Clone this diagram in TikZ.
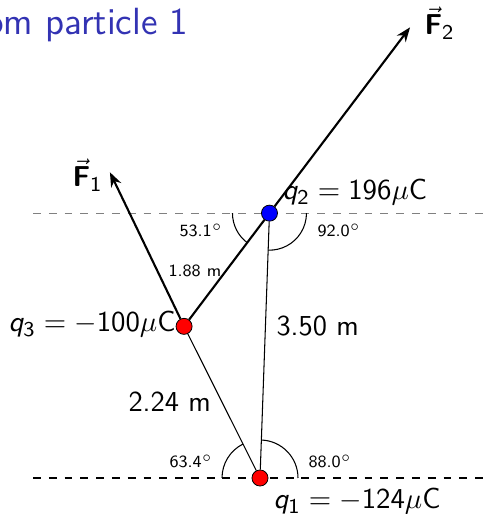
\documentclass[tikz,border=0pt]{standalone}
\usetikzlibrary{arrows.meta}
\definecolor{titleblue}{RGB}{51,51,179}
\renewcommand\familydefault{\sfdefault}
\SetSymbolFont{operators}{normal}{OT1}{cmss}{m}{n}
\DeclareSymbolFont{sfletters}{OT1}{cmss}{m}{it}
\DeclareMathSymbol{q}{\mathalpha}{sfletters}{`q}
\SetMathAlphabet{\mathbf}{normal}{OT1}{cmss}{bx}{n}

\begin{document}
\begin{tikzpicture}[x=0.38pt,y=0.38pt,
  font=\fontsize{11}{13}\selectfont,
  charge/.style={circle,draw=black,line width=0.3pt,inner sep=0pt,minimum size=6.1pt},
  arr/.style={-{Stealth[length=5.5pt,width=4.2pt]},line width=0.8pt},
  link/.style={line width=0.4pt},
  bond/.style={line width=0.8pt},
  refline/.style={dashed,line width=0.5pt},
  angmark/.style={line width=0.4pt},
  txt/.style={inner sep=0pt,anchor=base west},
  tinytxt/.style={txt,font=\fontsize{6.5}{8}\selectfont}
]
\useasboundingbox (0,0) rectangle (488,514);

\node[txt,anchor=base east,font=\fontsize{14.4}{17}\selectfont,text=titleblue] (title) at (189,479) {om particle 1};

% positions of the charges
\coordinate (q1pos) at (260,36);
\path (q1pos) ++(87.95:265) coordinate (q2pos);
\path (q1pos) ++(116.6:169.6) coordinate (q3pos);
\coordinate (lft) at (33,0);
\coordinate (rgt) at (488,0);

% horizontal reference lines
\draw[refline,gray] (lft |- q2pos) -- (rgt |- q2pos);
\draw[refline] (lft |- q1pos) -- (rgt |- q1pos);

% angle marks
\draw[angmark] ([shift={(180:38)}]q1pos) arc (180:116.6:38);
\draw[angmark] ([shift={(0:38)}]q1pos) arc (0:88:38);
\draw[angmark] ([shift={(180:37)}]q2pos) arc (180:233.1:37);
\draw[angmark] ([shift={(268:37)}]q2pos) arc (268:360:37);

\node[charge,fill=red]  (q1) at (q1pos) {};
\node[charge,fill=blue] (q2) at (q2pos) {};
\node[charge,fill=red]  (q3) at (q3pos) {};

\path (q2pos) ++(52.9:233) coordinate (f2tip);
\path (q3pos) ++(115.7:171) coordinate (f1tip);

\draw[link] (q1) -- (q3);
\draw[link] (q1) -- (q2);
\draw[bond] (q3) -- (q2);
\draw[arr]  (q2) -- (f2tip);
\draw[arr]  (q3) -- (f1tip);

% labels
\node[txt,anchor=base east] (lq3) at (176,182) {$q_3 = -100\mu$C};
\node[txt] (lq2) at (282,314) {$q_2 = 196\mu$C};
\node[txt] (lq1) at (273,5) {$q_1 = -124\mu$C};
\node[txt] (lf1) at (72,327) {$\vec{\mathbf{F}}_1$};
\node[txt] (lf2) at (424,479) {$\vec{\mathbf{F}}_2$};
\node[txt] (d13) at (128,102) {2.24 m};
\node[txt] (d12) at (276,178) {3.50 m};
\node[tinytxt] (d23) at (168,237) {1.88 m};
\node[tinytxt] (a1l) at (169,46) {63.4$^\circ$};
\node[tinytxt] (a1r) at (308,46) {88.0$^\circ$};
\node[tinytxt] (a2l) at (179,277) {53.1$^\circ$};
\node[tinytxt] (a2r) at (317,277) {92.0$^\circ$};
\end{tikzpicture}
\end{document}
